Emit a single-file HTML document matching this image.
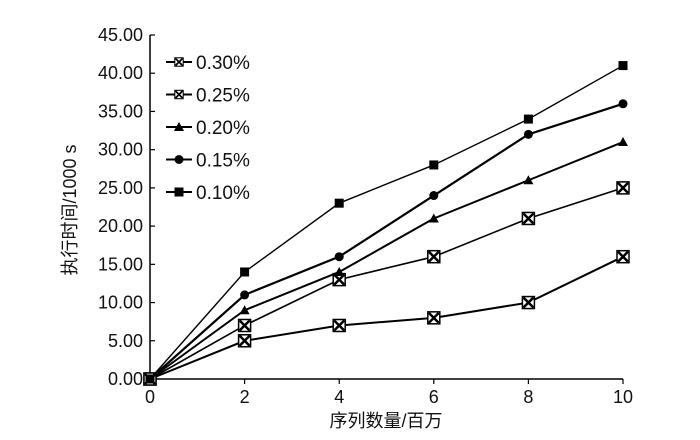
<!DOCTYPE html>
<html><head><meta charset="utf-8"><style>
body{margin:0;background:#fff;}
svg text{font-family:"Liberation Sans","Noto Sans CJK SC",sans-serif;fill:#111;}
</style></head><body>
<svg width="700" height="435" viewBox="0 0 700 435">
<g id="axes"></g><g id="series"></g><g id="legend"></g>
</svg>
<script>
const categories=[0,2,4,6,8,10];
const seriesNames=["0.30%","0.25%","0.20%","0.15%","0.10%"];
const s030=[0,5,7,8,10,16];
const s025=[0,7,13,16,21,25];
const s020=[0,9,14,21,26,31];
const s015=[0,11,16,24,32,36];
const s010=[0,14,23,28,34,41];
const yTicks=[0,5,10,15,20,25,30,35,40,45];
const xTicks=[0,2,4,6,8,10];
const NS="http://www.w3.org/2000/svg";
const X0=150,X1=623,Y0=379,Y1=35;
const xs=v=>X0+(v-0)/10*(X1-X0);
const ys=v=>Y0-(v/45)*(Y0-Y1);
function mk(t,a,p){const e=document.createElementNS(NS,t);for(const k in a)e.setAttribute(k,a[k]);p.appendChild(e);return e;}
const ax=document.getElementById('axes');
let e=mk('line',{x1:X0,y1:Y1,x2:X0,y2:Y0,stroke:'#000','stroke-width':1.5},ax);


e=mk('line',{x1:X0,y1:Y0,x2:X1,y2:Y0,stroke:'#000','stroke-width':1.5},ax);


yTicks.forEach(v=>{
 mk('line',{x1:X0,y1:ys(v),x2:X0+5,y2:ys(v),stroke:'#000','stroke-width':1.2},ax);
 const t=mk('text',{x:143,y:ys(v)+6,'text-anchor':'end','font-size':18},ax);
 t.textContent=v.toFixed(2);
 
 
});
xTicks.forEach(v=>{
 mk('line',{x1:xs(v),y1:Y0,x2:xs(v),y2:Y0+5,stroke:'#000','stroke-width':1.2},ax);
 const t=mk('text',{x:xs(v),y:403,'text-anchor':'middle','font-size':18},ax);
 t.textContent=v;
 
 
});
let t=mk('text',{x:386,y:427,'text-anchor':'middle','font-size':18},ax);
t.textContent='序列数量/百万';


t=mk('text',{x:0,y:0,'text-anchor':'middle','font-size':18,transform:'translate(76,210) rotate(-90)'},ax);
t.textContent='执行时间/1000 s';



function marker(type,x,y,p){
 if(type==='x'){
  mk('rect',{x:x-6,y:y-6,width:12,height:12,fill:'#fff',stroke:'#000','stroke-width':1.5},p);
  mk('path',{d:`M${x-5} ${y-5}L${x+5} ${y+5}M${x+5} ${y-5}L${x-5} ${y+5}`,stroke:'#000','stroke-width':2.5},p);
 }else if(type==='tri'){
  mk('path',{d:`M${x} ${y-5}L${x+5} ${y+4}L${x-5} ${y+4}Z`,fill:'#000'},p);
 }else if(type==='circ'){
  mk('circle',{cx:x,cy:y,r:4.5,fill:'#000'},p);
 }else{
  mk('rect',{x:x-4.5,y:y-4.5,width:9,height:9,fill:'#000'},p);
 }
}
const allSeries=[s030,s025,s020,s015,s010];
const types=['x','x','tri','circ','sq'];
const widths=[2,1.6,2,2.2,1.4];
const sg=document.getElementById('series');
allSeries.forEach((arr,i)=>{
 const g=mk('g',{},sg);
 
 
 mk('polyline',{points:arr.map((v,j)=>xs(categories[j])+','+ys(v)).join(' '),fill:'none',stroke:'#000','stroke-width':widths[i]},g);
 arr.forEach((v,j)=>marker(types[i],xs(categories[j]),ys(v),g));
});
const lg=document.getElementById('legend');
const order=[0,1,2,3,4];
order.forEach((i,k)=>{
 const y=62+k*32.5;
 const g=mk('g',{},lg);
 
 
 mk('line',{x1:166,y1:y,x2:192,y2:y,stroke:'#000','stroke-width':2},g);
 const sc=types[i]==='x'?0.7:1;
 const m=mk('g',{transform:`translate(179,${y}) scale(${sc}) translate(-179,${-y})`},g);
 marker(types[i],179,y,m);
 const tx=mk('text',{x:196,y:y+7,'font-size':19},g);
 tx.textContent=seriesNames[i];
});
</script>
</body></html>
